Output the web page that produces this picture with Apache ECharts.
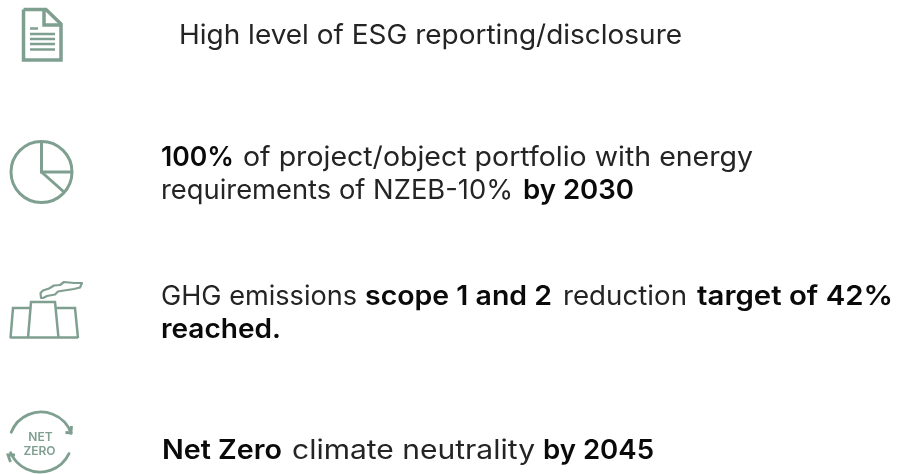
<!DOCTYPE html>
<html><head><meta charset="utf-8">
<style>html,body{margin:0;padding:0;background:#fff}#c{width:917px;height:474px}</style>
<script src="https://cdn.jsdelivr.net/npm/echarts@6/dist/echarts.min.js"></script>
</head><body><div id="c"></div>
<script>
// Text content: [text, isBold]
const row1 = [["High level of ESG reporting/disclosure", 0]];
const row2a = [["100%", 1], ["of project/object portfolio with energy", 0]];
const row2b = [["requirements of NZEB-10%", 0], ["by 2030", 1]];
const row3a = [["GHG emissions", 0], ["scope 1 and 2", 1], ["reduction", 0], ["target of 42%", 1]];
const row3b = [["reached.", 1]];
const row4 = [["Net Zero", 1], ["climate neutrality", 0], ["by 2045", 1]];
const iconLabels = ["NET", "ZERO"];

// Layout, separate from content
const FONT = "Inter", SIZE = 27, INK = "#242424", BOLD = "#0a0a0a", ICON = "#7f9f90";
const spans = [
  [row1, 43.5, [[179, 682]]],
  [row2a, 165, [[161, 234], [243, 753]]],
  [row2b, 198.5, [[161, 513], [523, 634]]],
  [row3a, 304, [[161, 357], [365, 552], [563, 687], [697, 893]]],
  [row3b, 337, [[161, 281]]],
  [row4, 458, [[162, 282], [292, 535], [543, 654]]]
];
const ctx = document.createElement("canvas").getContext("2d");
const textEls = [];
spans.forEach(([segs, base, xs]) => segs.forEach(([t, b], i) => {
  const font = `${b ? 600 : 400} ${SIZE}px ${FONT}`;
  ctx.font = font;
  const sx = (xs[i][1] - xs[i][0]) / ctx.measureText(t).width;
  textEls.push({type: "text", x: xs[i][0], y: base - 7.5, scaleX: sx, silent: true,
    style: {text: t, font, fill: b ? BOLD : INK, align: "left", verticalAlign: "middle"}});
}));
const line = (pts, w = 3) => ({type: "polyline", shape: {points: pts}, silent: true,
  style: {stroke: ICON, fill: null, lineWidth: w, lineJoin: "miter"}});
const arc = (cx, cy, r, a, b, w = 3) => ({type: "arc", shape: {cx, cy, r, startAngle: a, endAngle: b, clockwise: true}, silent: true,
  style: {stroke: ICON, fill: null, lineWidth: w, lineCap: "round"}});

const doc = [
  line([[23.5, 9.5], [46, 9.5], [61, 24], [61, 60], [23.5, 60], [23.5, 9.5]], 3.5),
  line([[44, 10], [44, 25], [60, 25]], 3.5),
  line([[30, 28.5], [38, 28.5]], 2.5), line([[30, 34], [55, 34]], 2.5), line([[30, 39], [55, 39]], 2.5),
  line([[30, 44], [55, 44]], 2.5), line([[30, 49.5], [55, 49.5]], 2.5)
];
const pie = [
  arc(41.5, 172, 30.5, 0, Math.PI * 2, 3),
  line([[41.5, 142], [41.5, 172], [71, 172]], 3),
  line([[41.5, 172], [64, 192]], 3)
];
const fac = [
  line([[10.5, 338], [13, 308], [31, 308]], 2.5),
  line([[28, 338], [31, 302], [55, 302], [58.5, 338]], 2.5),
  line([[55, 308], [75, 308], [78, 338]], 2.5),
  line([[10, 337.5], [78, 337.5]], 2.5),
  {type: "polygon", silent: true, shape: {points: [[41, 298], [40.5, 293], [43, 290.5], [49, 288.5], [54, 285.5], [60, 285], [64, 282], [74, 283], [82, 283], [80, 287.5], [74, 289], [64, 290.5], [58, 291.5], [55, 294.5], [47, 296], [43, 298]]},
    style: {stroke: ICON, fill: null, lineWidth: 2.2, lineJoin: "round"}}
];
const nz = [
  arc(41, 444, 32, Math.PI * 1.12, Math.PI * 1.89, 2.8),
  line([[65.5, 432.5], [71, 433], [71.5, 426]], 2.8),
  arc(40, 440, 32, Math.PI * 0.14, Math.PI * 0.87, 2.8),
  line([[15, 455], [8, 455], [10.5, 462]], 2.8),
  {type: "text", x: 40.5, y: 437, silent: true, style: {text: iconLabels[0], font: "600 12px Inter", fill: ICON, align: "center", verticalAlign: "middle"}},
  {type: "text", x: 39.5, y: 451, silent: true, style: {text: iconLabels[1], font: "600 12px Inter", fill: ICON, align: "center", verticalAlign: "middle"}}
];
const chart = echarts.init(document.getElementById("c"), null, {renderer: "canvas"});
chart.setOption({animation: false, backgroundColor: "#fff", graphic: {elements: [...doc, ...pie, ...fac, ...nz, ...textEls]}});
</script></body></html>
